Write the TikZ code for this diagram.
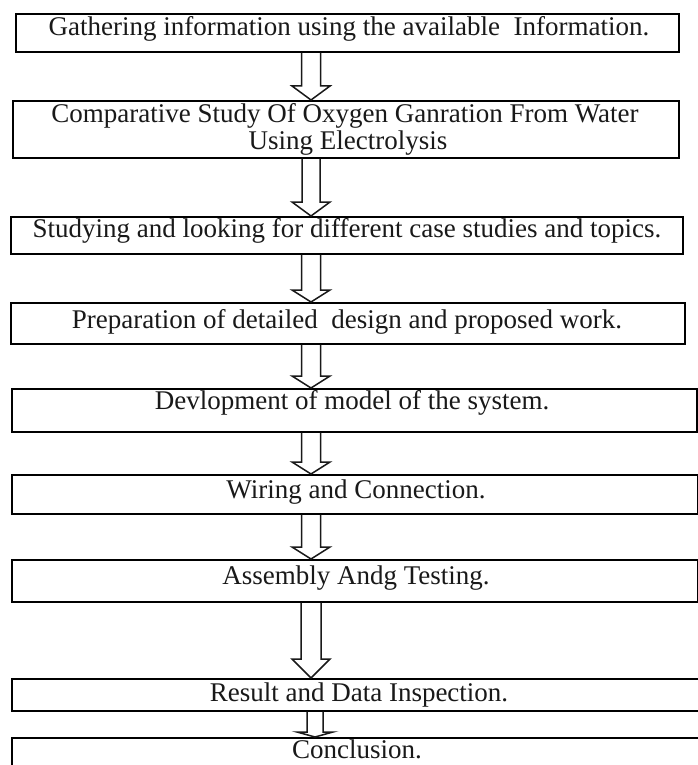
\documentclass[tikz,border=0pt]{standalone}
\usepackage{fontspec}
\setmainfont{Liberation Serif}
\usetikzlibrary{calc}
\tikzset{
  box/.style={draw=black, line width=1.7pt, inner sep=0pt, anchor=north west, fill=none},
  lbl/.style={anchor=base, inner sep=0pt, text=black!90, font=\fontsize{27}{27}\selectfont},
  arr/.style={draw=black!90, line width=1.5pt, line join=miter}
}
\newcommand\blockarr[6]{%
  \draw[arr] let \p1=(#1.south), \p2=(#2.north) in
    ({(#3-#4)*1pt},\y1) -- ({(#3-#4)*1pt},{\y2+#6*1pt}) -- ({(#3-#5)*1pt},{\y2+#6*1pt})
    -- ({#3*1pt},\y2) -- ({(#3+#5)*1pt},{\y2+#6*1pt}) -- ({(#3+#4)*1pt},{\y2+#6*1pt})
    -- ({(#3+#4)*1pt},\y1);}
\begin{document}
\begin{tikzpicture}[x=1pt,y=-1pt]
\useasboundingbox (0,0) rectangle (698,765);
\clip (0,0) rectangle (698,765);
\fill[white] (0,0) rectangle (698,765);
% boxes
\node[box, minimum width=663pt, minimum height=38pt] (b1) at (15,13) {};
\node[box, minimum width=666pt, minimum height=57pt] (b2) at (12,100) {};
\node[box, minimum width=672pt, minimum height=37pt] (b3) at (10,216) {};
\node[box, minimum width=674pt, minimum height=41pt] (b4) at (10,302) {};
\node[box, minimum width=685pt, minimum height=43pt] (b5) at (11,388) {};
\node[box, minimum width=686pt, minimum height=39pt] (b6) at (11,474) {};
\node[box, minimum width=686pt, minimum height=42pt] (b7) at (11,559) {};
\node[box, minimum width=700pt, minimum height=32pt] (b8) at (11,678) {};
\node[box, minimum width=700pt, minimum height=40pt] (b9) at (11,737) {};
% texts
\node[lbl] (t1) at (349,36) {Gathering information using the available\ \ Information.};
\node[lbl] (t2a) at (345,123) {Comparative Study Of Oxygen Ganration From Water};
\node[lbl] (t2b) at (348,149) {Using Electrolysis};
\node[lbl] (t3) at (347,237) {Studying and looking for different case studies and topics.};
\node[lbl] (t4) at (347,328) {Preparation of detailed\ \ design and proposed work.};
\node[lbl] (t5) at (352,409) {Devlopment of model of the system.};
\node[lbl] (t6) at (356,498) {Wiring and Connection.};
\node[lbl] (t7) at (356,584) {Assembly Andg Testing.};
\node[lbl] (t8) at (359,701) {Result and Data Inspection.};
\node[lbl] (t9) at (357,758) {Conclusion.};
% arrows
\blockarr{b1}{b2}{311}{9.5}{19}{14}
\blockarr{b2}{b3}{311}{9}{19}{14}
\blockarr{b3}{b4}{311}{9.5}{19}{12}
\blockarr{b4}{b5}{311}{9.5}{19}{12}
\blockarr{b5}{b6}{311}{9.5}{19}{12}
\blockarr{b6}{b7}{311}{9.5}{19}{12}
\blockarr{b7}{b8}{311}{10}{19}{19}
\blockarr{b8}{b9}{315}{8}{18}{5}
\end{tikzpicture}
\end{document}
